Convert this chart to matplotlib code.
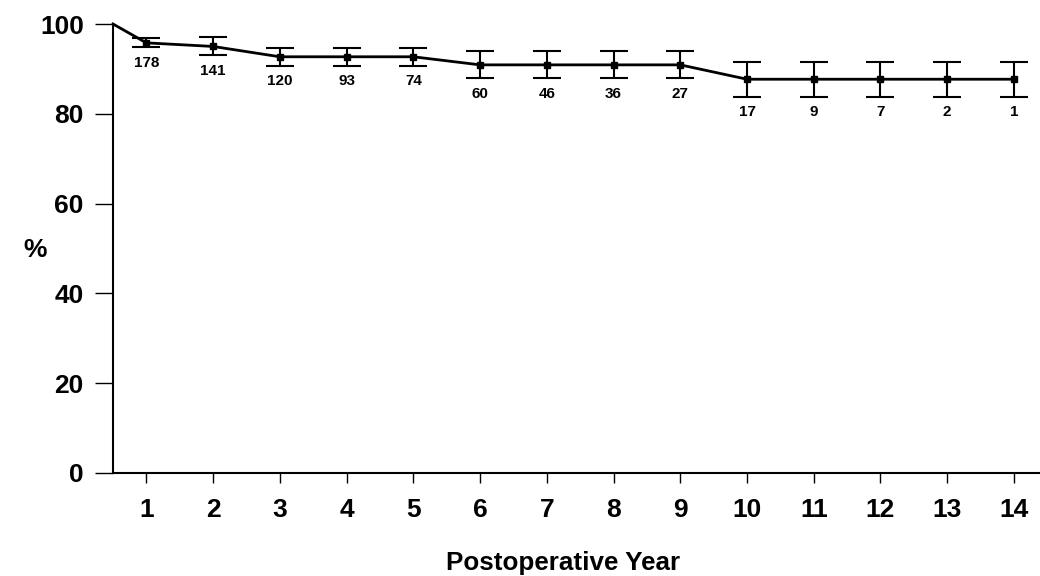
import matplotlib
matplotlib.use("Agg")
import matplotlib.pyplot as plt

plt.rcParams['font.family'] = ['Liberation Sans', 'DejaVu Sans']
plt.rcParams['font.weight'] = 'bold'

# survival curve
years = [1, 2, 3, 4, 5, 6, 7, 8, 9, 10, 11, 12, 13, 14]
survival = [95.8, 95.0, 92.7, 92.7, 92.7, 90.9, 90.9, 90.9, 90.9,
            87.7, 87.7, 87.7, 87.7, 87.7]
err = [1.0, 2.0, 2.0, 2.0, 2.0, 3.0, 3.0, 3.0, 3.0,
       3.9, 3.9, 3.9, 3.9, 3.9]
at_risk = [178, 141, 120, 93, 74, 60, 46, 36, 27, 17, 9, 7, 2, 1]
start_year = 0.5
start_pct = 100
yticks = [0, 20, 40, 60, 80, 100]

fig = plt.figure(figsize=(10.4, 5.76), dpi=100)
ax = fig.add_axes([113 / 1040, 1 - 473 / 576, 1 - 113 / 1040, (473 - 24) / 576])

# curve from time zero through the yearly estimates
ax.plot([start_year] + years, [start_pct] + survival, color='black',
        lw=2, clip_on=False, zorder=3)
ax.errorbar(years, survival, yerr=err, fmt='s', color='black',
            ms=5, elinewidth=1.5, capsize=10, capthick=1.5,
            clip_on=False, zorder=4)

# numbers at risk under each bar
for x, y, e, n in zip(years, survival, err, at_risk):
    ax.annotate(str(n), (x, y - e), xytext=(0, -11),
                textcoords='offset points', ha='center', va='center',
                fontsize=11, fontweight='bold')

ax.set_xlim(start_year, 14.39)
ax.set_ylim(0, 100)
ax.set_xticks(years)
ax.set_yticks(yticks)
ax.tick_params(axis='y', direction='out', length=13, width=1, pad=8,
               labelsize=19)
ax.tick_params(axis='x', direction='out', length=7, width=1, pad=11,
               labelsize=19)
for lab in ax.get_xticklabels() + ax.get_yticklabels():
    lab.set_fontweight('bold')

for side in ['top', 'right']:
    ax.spines[side].set_visible(False)
ax.spines['left'].set_linewidth(1.5)
ax.spines['bottom'].set_linewidth(1.5)

fig.text(35 / 1040, 1 - 250 / 576, '%', ha='center', va='center',
         fontsize=19, fontweight='bold')
fig.text(563 / 1040, 1 - 563 / 576, 'Postoperative Year', ha='center',
         va='center', fontsize=18.7, fontweight='bold')

fig.savefig('out.png', dpi=100)
